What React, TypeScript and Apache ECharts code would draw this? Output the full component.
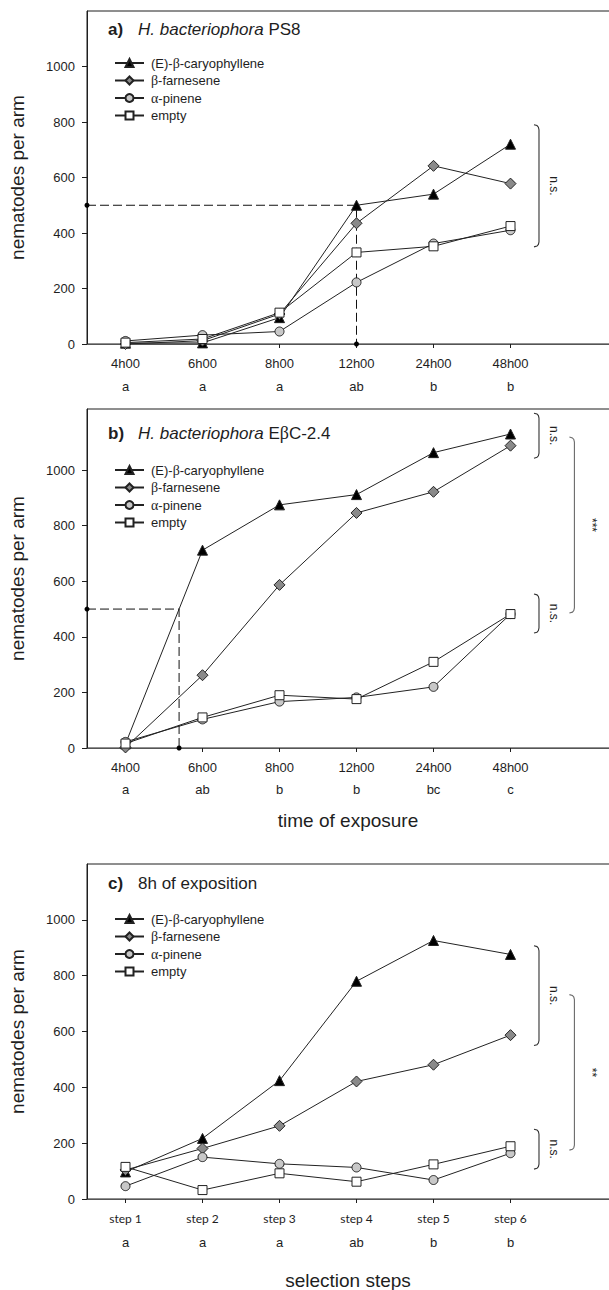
import React, { useEffect, useRef } from "react";
import * as echarts from "echarts";

// ---- data ----
const SERIES_NAMES = ["(E)-β-caryophyllene", "β-farnesene", "α-pinene", "empty"];

const timeLabels = ["4h00", "6h00", "8h00", "12h00", "24h00", "48h00"];
const stepLabels = ["step 1", "step 2", "step 3", "step 4", "step 5", "step 6"];

const lettersPS8 = ["a", "a", "a", "ab", "b", "b"];
const lettersEBC = ["a", "ab", "b", "b", "bc", "c"];
const lettersSteps = ["a", "a", "a", "ab", "b", "b"];

// a) H. bacteriophora PS8
const ps8Caryophyllene = [3, 4, 95, 500, 540, 720];
const ps8Farnesene = [0, 12, 108, 435, 642, 578];
const ps8Pinene = [11, 32, 45, 222, 362, 410];
const ps8Empty = [5, 18, 113, 330, 352, 425];

// b) H. bacteriophora EβC-2.4
const ebcCaryophyllene = [15, 712, 875, 912, 1063, 1130];
const ebcFarnesene = [2, 262, 587, 846, 922, 1088];
const ebcPinene = [22, 103, 167, 182, 220, 482];
const ebcEmpty = [16, 110, 190, 176, 310, 482];

// c) 8h of exposition, per selection step
const stepCaryophyllene = [97, 217, 424, 780, 926, 876];
const stepFarnesene = [104, 181, 262, 421, 481, 587];
const stepPinene = [46, 150, 126, 113, 68, 164];
const stepEmpty = [115, 32, 92, 62, 124, 189];

const yTickValues = [0, 200, 400, 600, 800, 1000];
const THRESHOLD = 500;

// significance brackets: value span and label
const bracketsPS8 = [{ from: 350, to: 790, label: "n.s.", far: false }];
const bracketsEBC = [
  { from: 1043, to: 1205, label: "n.s.", far: false },
  { from: 414, to: 554, label: "n.s.", far: false },
  { from: 486, to: 1119, label: "***", far: true },
];
const bracketsSteps = [
  { from: 550, to: 907, label: "n.s.", far: false },
  { from: 107, to: 250, label: "n.s.", far: false },
  { from: 175, to: 732, label: "**", far: true },
];

// ---- styling ----
const SANS = '"Liberation Sans", Arial, Helvetica, sans-serif';
const SERIF = '"Liberation Serif", "Times New Roman", serif';
const INK = "#1e1e1e";

const MARKERS = [
  { symbol: "triangle", size: 10, fill: "#000000" },
  { symbol: "diamond", size: 11, fill: "#8a8a8a" },
  { symbol: "circle", size: 9, fill: "#c8c8c8" },
  { symbol: "rect", size: 9, fill: "#ffffff" },
];

const CANVAS_W = 720; // drawing surface; the visible window crops it at 609
const GRID_LEFT = 87;
const SLOT = 77; // width of one category slot
const N_SLOTS = 8; // six categories plus empty room on the right

const PANELS = [
  {
    tag: "a)",
    title: "{i|H. bacteriophora} PS8",
    titleY: 29,
    top: 11,
    bottom: 344,
    yMax: 1200,
    cats: timeLabels,
    letters: lettersPS8,
    catFont: SANS,
    catSize: 13,
    lineH: 23,
    margin: 7.5,
    series: [ps8Caryophyllene, ps8Farnesene, ps8Pinene, ps8Empty],
    legendTop: 51,
    dashed: true,
    brackets: bracketsPS8,
  },
  {
    tag: "b)",
    title: "{i|H. bacteriophora} E{g|β}C-2.4",
    titleY: 433,
    top: 409,
    bottom: 748,
    yMax: 1220,
    cats: timeLabels,
    letters: lettersEBC,
    catFont: SANS,
    catSize: 13,
    lineH: 22,
    margin: 8,
    series: [ebcCaryophyllene, ebcFarnesene, ebcPinene, ebcEmpty],
    legendTop: 458,
    dashed: true,
    brackets: bracketsEBC,
  },
  {
    tag: "c)",
    title: "8h of exposition",
    titleY: 883,
    top: 864,
    bottom: 1199,
    yMax: 1200,
    cats: stepLabels,
    letters: lettersSteps,
    catFont: 'Lato, "Open Sans", sans-serif',
    catSize: 12,
    lineH: 24,
    margin: 7,
    series: [stepCaryophyllene, stepFarnesene, stepPinene, stepEmpty],
    legendTop: 907,
    dashed: false,
    brackets: bracketsSteps,
  },
];

// fractional category position where a series first reaches a value
function firstCrossing(vals: number[], t: number): number {
  for (let i = 1; i < vals.length; i++) {
    if (vals[i] >= t) {
      if (vals[i] === t) return i;
      return i - 1 + (t - vals[i - 1]) / (vals[i] - vals[i - 1]);
    }
  }
  return vals.length - 1;
}

const greek = (s: string) => s.replace(/([αβ])/g, "{g|$1}");

function buildOption() {
  const grid: any[] = [];
  const xAxis: any[] = [];
  const yAxis: any[] = [];
  const series: any[] = [];
  const legend: any[] = [];
  const guideSeries: number[] = [];

  PANELS.forEach((p, pi) => {
    grid.push({
      left: GRID_LEFT,
      top: p.top,
      width: SLOT * N_SLOTS,
      height: p.bottom - p.top,
      show: true,
      borderColor: INK,
      borderWidth: 1,
      backgroundColor: "transparent",
    });
    const cats = [...p.cats, "", ""];
    xAxis.push({
      type: "category",
      gridIndex: pi,
      data: cats,
      boundaryGap: true,
      axisLine: { show: true, onZero: false, lineStyle: { color: "#555", width: 1 } },
      axisTick: {
        show: true,
        alignWithLabel: true,
        length: 4,
        inside: false,
        interval: (_i: number, v: string) => v !== "",
        lineStyle: { color: INK },
      },
      axisLabel: {
        interval: 0,
        margin: p.margin,
        formatter: (v: string, i: number) => (v ? `{t|${v}}\n{l|${p.letters[i]}}` : ""),
        rich: {
          t: { fontFamily: p.catFont, fontSize: p.catSize, lineHeight: p.lineH, color: INK },
          l: { fontFamily: SANS, fontSize: 13, lineHeight: p.lineH, color: INK },
        },
      },
      splitLine: { show: false },
    });
    xAxis.push({
      type: "value",
      gridIndex: pi,
      min: -0.5,
      max: N_SLOTS - 0.5,
      show: false,
      axisLine: { onZero: false },
    });
    yAxis.push({
      type: "value",
      gridIndex: pi,
      min: 0,
      max: p.yMax,
      interval: 200,
      axisLine: { show: true, onZero: false, lineStyle: { color: INK } },
      axisTick: {
        show: true,
        length: 5,
        customValues: yTickValues,
        lineStyle: { color: INK },
      },
      axisLabel: {
        margin: 12,
        customValues: yTickValues,
        formatter: (v: number) => (v <= 1000 ? String(v) : ""),
        fontFamily: SANS,
        fontSize: 13,
        color: INK,
      },
      splitLine: { show: false },
    });

    p.series.forEach((vals, si) => {
      const m = MARKERS[si];
      series.push({
        type: "line",
        name: SERIES_NAMES[si],
        xAxisIndex: pi * 2,
        yAxisIndex: pi,
        data: vals,
        symbol: m.symbol,
        symbolSize: m.size,
        showSymbol: true,
        itemStyle: { color: m.fill, borderColor: "#222", borderWidth: 1 },
        lineStyle: { color: "#222", width: 1 },
        emphasis: { disabled: true },
        silent: true,
        z: 3 + si,
      });
    });

    if (p.dashed) {
      const cx = firstCrossing(p.series[0], THRESHOLD);
      series.push({
        type: "line",
        xAxisIndex: pi * 2 + 1,
        yAxisIndex: pi,
        data: [
          { value: [-0.5, THRESHOLD], symbol: "circle" },
          { value: [cx, THRESHOLD], symbol: "none" },
          { value: [cx, 0], symbol: "circle" },
        ],
        symbolSize: 5,
        itemStyle: { color: "#000" },
        lineStyle: { color: "#111", width: 1, type: [9, 4] },
        clip: false,
        silent: true,
        z: 2,
      });
    } else {
      // empty helper so values in this grid can be mapped to pixels
      series.push({
        type: "line",
        xAxisIndex: pi * 2 + 1,
        yAxisIndex: pi,
        data: [],
        silent: true,
      });
    }
    guideSeries.push(series.length - 1);

    legend.push({
      data: SERIES_NAMES,
      orient: "vertical",
      left: 109,
      top: p.legendTop,
      itemWidth: 29,
      itemHeight: 10,
      itemGap: 3.5,
      selectedMode: false,
      formatter: (n: string) => greek(n),
      textStyle: {
        fontFamily: SANS,
        fontSize: 13,
        lineHeight: 14,
        color: INK,
        padding: [0, 0, 0, 2],
        rich: { g: { fontFamily: SERIF, fontSize: 14, lineHeight: 14, color: INK } },
      },
    });
  });

  return {
    option: {
      animation: false,
      backgroundColor: "#ffffff",
      grid,
      xAxis,
      yAxis,
      legend,
      series,
    },
    guideSeries,
  };
}

export default function App() {
  const ref = useRef<HTMLDivElement>(null);

  useEffect(() => {
    if (!ref.current) return;
    const chart = echarts.init(ref.current, undefined, { renderer: "svg" });
    const { option, guideSeries } = buildOption();
    chart.setOption(option as any);

    const graphics: any[] = [];
    PANELS.forEach((p, pi) => {
      const si = guideSeries[pi];
      const toPx = (x: number, y: number) =>
        chart.convertToPixel({ seriesIndex: si }, [x, y]) as number[];

      // panel tag and title
      graphics.push({
        type: "text",
        x: 108,
        y: p.titleY,
        style: {
          text: p.tag,
          fontFamily: SANS,
          fontSize: 17,
          fontWeight: "bold",
          fill: INK,
          align: "left",
          verticalAlign: "middle",
        },
      });
      graphics.push({
        type: "text",
        x: 138,
        y: p.titleY,
        style: {
          text: p.title,
          fontFamily: SANS,
          fontSize: 17,
          fill: INK,
          align: "left",
          verticalAlign: "middle",
          rich: {
            i: { fontFamily: SANS, fontSize: 17, fontStyle: "italic", fill: INK },
            g: { fontFamily: SERIF, fontSize: 18, fill: INK },
          },
        },
      });

      // y-axis title
      graphics.push({
        type: "text",
        x: 17,
        y: (p.top + p.bottom) / 2,
        rotation: Math.PI / 2,
        style: {
          text: "nematodes per arm",
          fontFamily: SANS,
          fontSize: 19,
          fill: INK,
          align: "center",
          verticalAlign: "middle",
        },
      });

      // significance brackets
      p.brackets.forEach((b) => {
        const xv = b.far ? 5.83 : 5.37;
        const [x, yTop] = toPx(xv, b.to);
        const [, yBot] = toPx(xv, b.from);
        const h = 5;
        graphics.push({
          type: "polyline",
          shape: {
            points: [
              [x - h, yTop],
              [x - 2, yTop + 0.8],
              [x - 0.6, yTop + 2.4],
              [x, yTop + h],
              [x, yBot - h],
              [x - 0.6, yBot - 2.4],
              [x - 2, yBot - 0.8],
              [x - h, yBot],
            ],
          },
          style: { stroke: b.far ? "#6a6a6a" : "#333", lineWidth: 1.1, fill: "none" },
        });
        graphics.push({
          type: "text",
          x: x + (b.far ? 18 : 15),
          y: (yTop + yBot) / 2,
          rotation: -Math.PI / 2,
          style: {
            text: b.label,
            fontFamily: SANS,
            fontSize: 12,
            fill: INK,
            align: "center",
            verticalAlign: "middle",
          },
        });
      });
    });

    // x-axis titles
    graphics.push({
      type: "text",
      x: 348,
      y: 820,
      style: {
        text: "time of exposure",
        fontFamily: SANS,
        fontSize: 19,
        fill: INK,
        align: "center",
        verticalAlign: "middle",
      },
    });
    graphics.push({
      type: "text",
      x: 348,
      y: 1280,
      style: {
        text: "selection steps",
        fontFamily: SANS,
        fontSize: 19,
        fill: INK,
        align: "center",
        verticalAlign: "middle",
      },
    });

    chart.setOption({ graphic: graphics } as any);

    return () => {
      chart.dispose();
    };
  }, []);

  return (
    <div
      style={{
        position: "absolute",
        left: 0,
        top: 0,
        width: 609,
        height: 1290,
        overflow: "hidden",
        background: "#fff",
      }}
    >
      <div ref={ref} style={{ width: CANVAS_W, height: 1290 }} />
    </div>
  );
}
